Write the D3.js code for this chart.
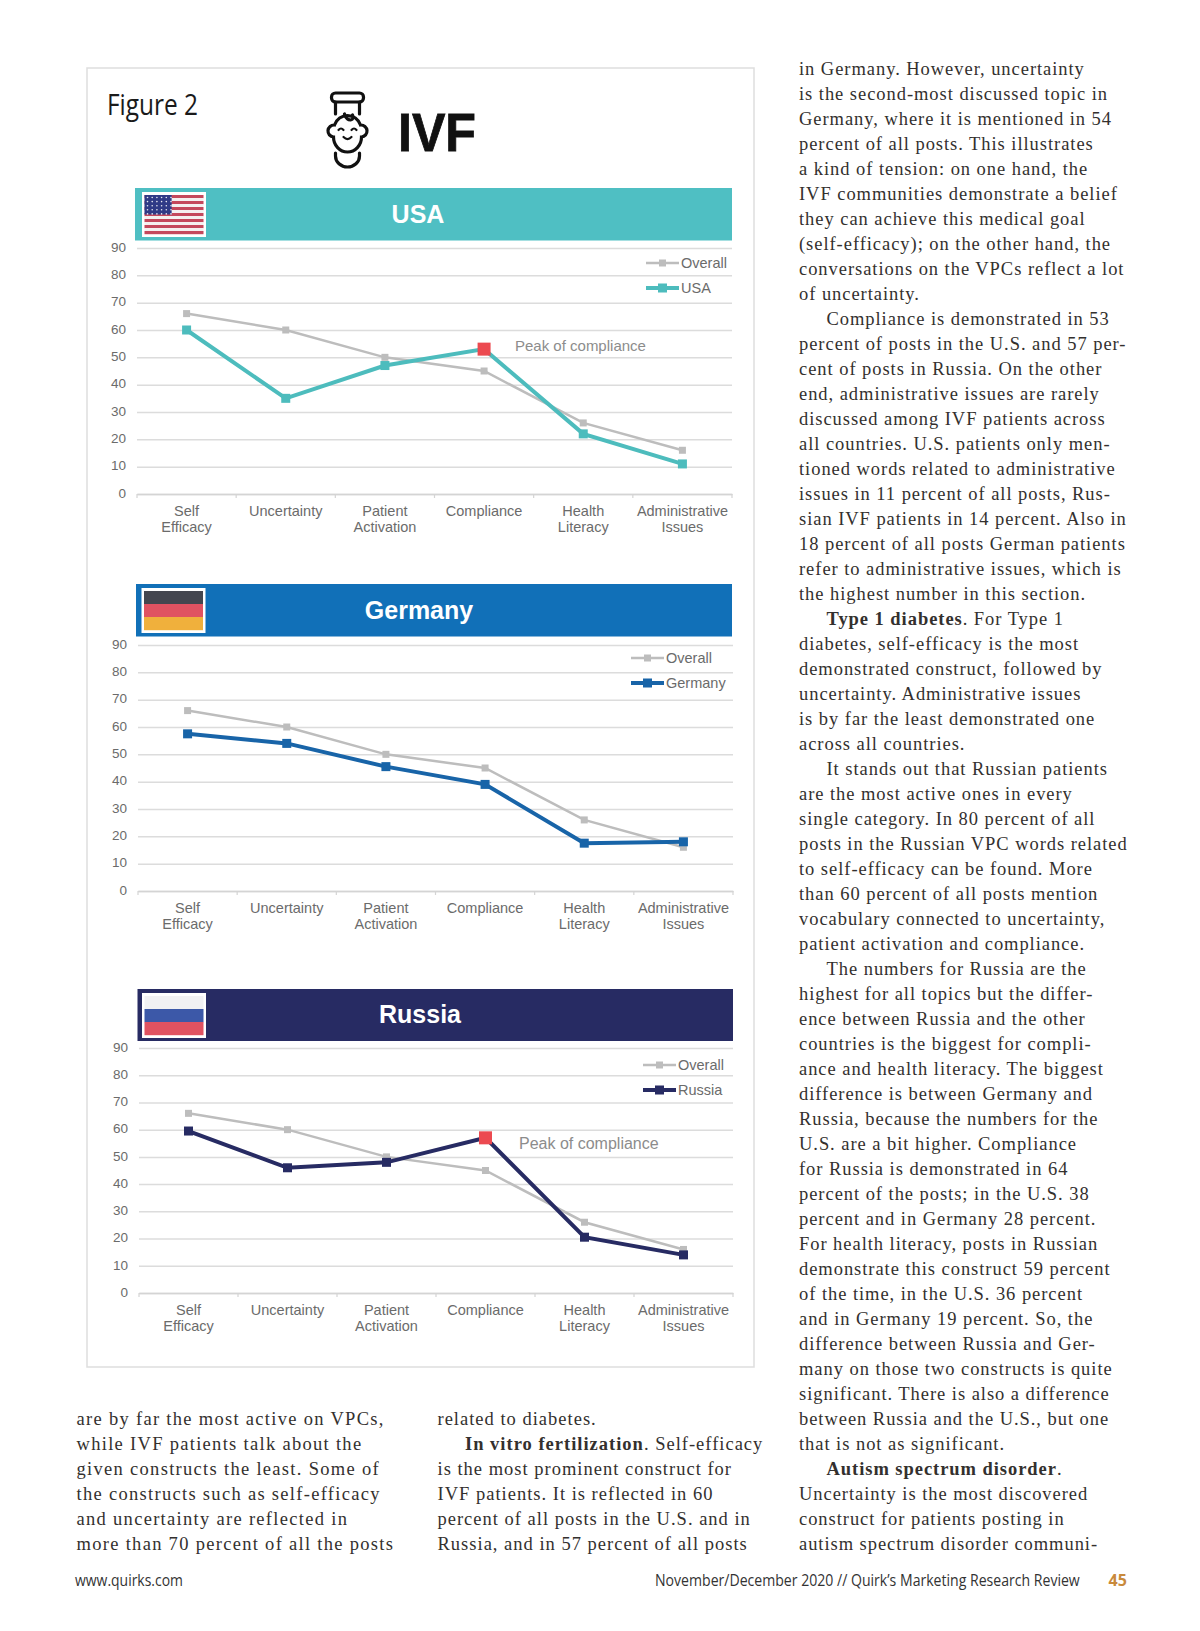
<!DOCTYPE html>
<html>
<head>
<meta charset="utf-8">
<script src="https://cdn.jsdelivr.net/npm/d3@7"></script>
<style>
  html, body { margin: 0; padding: 0; background: #fff; }
  svg { display: block; }
</style>
</head>
<body>
<div id="page"></div>
<script>
// chart values
const categories = ["Self Efficacy", "Uncertainty", "Patient Activation", "Compliance", "Health Literacy", "Administrative Issues"];
const yTicks = [0, 10, 20, 30, 40, 50, 60, 70, 80, 90];
const overall = [66, 60, 50, 45, 26, 16];
const usa = [60, 35, 47, 53, 22, 11];
const germany = [57.5, 54, 45.5, 39, 17.5, 18];
const russia = [59.5, 46, 48, 57, 20.5, 14];

// page text
const column1 = [
  "are by far the most active on VPCs,",
  "while IVF patients talk about the",
  "given constructs the least. Some of",
  "the constructs such as self-efficacy",
  "and uncertainty are reflected in",
  "more than 70 percent of all the posts"
];
const column2 = [
  "related to diabetes.",
  ">*In vitro fertilization*. Self-efficacy",
  "is the most prominent construct for",
  "IVF patients. It is reflected in 60",
  "percent of all posts in the U.S. and in",
  "Russia, and in 57 percent of all posts"
];
const column3 = [
  "in Germany. However, uncertainty",
  "is the second-most discussed topic in",
  "Germany, where it is mentioned in 54",
  "percent of all posts. This illustrates",
  "a kind of tension: on one hand, the",
  "IVF communities demonstrate a belief",
  "they can achieve this medical goal",
  "(self-efficacy); on the other hand, the",
  "conversations on the VPCs reflect a lot",
  "of uncertainty.",
  ">Compliance is demonstrated in 53",
  "percent of posts in the U.S. and 57 per-",
  "cent of posts in Russia. On the other",
  "end, administrative issues are rarely",
  "discussed among IVF patients across",
  "all countries. U.S. patients only men-",
  "tioned words related to administrative",
  "issues in 11 percent of all posts, Rus-",
  "sian IVF patients in 14 percent. Also in",
  "18 percent of all posts German patients",
  "refer to administrative issues, which is",
  "the highest number in this section.",
  ">*Type 1 diabetes*. For Type 1",
  "diabetes, self-efficacy is the most",
  "demonstrated construct, followed by",
  "uncertainty. Administrative issues",
  "is by far the least demonstrated one",
  "across all countries.",
  ">It stands out that Russian patients",
  "are the most active ones in every",
  "single category. In 80 percent of all",
  "posts in the Russian VPC words related",
  "to self-efficacy can be found. More",
  "than 60 percent of all posts mention",
  "vocabulary connected to uncertainty,",
  "patient activation and compliance.",
  ">The numbers for Russia are the",
  "highest for all topics but the differ-",
  "ence between Russia and the other",
  "countries is the biggest for compli-",
  "ance and health literacy. The biggest",
  "difference is between Germany and",
  "Russia, because the numbers for the",
  "U.S. are a bit higher. Compliance",
  "for Russia is demonstrated in 64",
  "percent of the posts; in the U.S. 38",
  "percent and in Germany 28 percent.",
  "For health literacy, posts in Russian",
  "demonstrate this construct 59 percent",
  "of the time, in the U.S. 36 percent",
  "and in Germany 19 percent. So, the",
  "difference between Russia and Ger-",
  "many on those two constructs is quite",
  "significant. There is also a difference",
  "between Russia and the U.S., but one",
  "that is not as significant.",
  ">*Autism spectrum disorder*.",
  "Uncertainty is the most discovered",
  "construct for patients posting in",
  "autism spectrum disorder communi-"
];

const sans = "'Liberation Sans', Arial, sans-serif";
const serif = "'Liberation Serif', serif";
const overallColor = "#bdbdbd";
const textColor = "#6b6b6b";

const svg = d3.select("#page")
  .append("svg")
  .attr("width", 1200)
  .attr("height", 1631);

svg.append("rect").attr("width", 1200).attr("height", 1631).attr("fill", "#fff");

// figure card
svg.append("rect")
  .attr("x", 87).attr("y", 68)
  .attr("width", 667).attr("height", 1299)
  .attr("fill", "#fff")
  .attr("stroke", "#dedede")
  .attr("stroke-width", 1.5);

svg.append("text")
  .attr("x", 107).attr("y", 115)
  .attr("textLength", 91).attr("lengthAdjust", "spacingAndGlyphs")
  .style("font-family", "'Open Sans', sans-serif")
  .style("font-size", "30px")
  .attr("fill", "#1a1a1a")
  .text("Figure 2");

svg.append("text")
  .attr("x", 398).attr("y", 151)
  .attr("textLength", 78).attr("lengthAdjust", "spacingAndGlyphs")
  .style("font-family", sans)
  .style("font-weight", "bold")
  .style("font-size", "53px")
  .attr("stroke", "#111")
  .attr("stroke-width", 0.8)
  .attr("fill", "#111")
  .text("IVF");

// baby in a tube icon
const icon = svg.append("g")
  .attr("transform", "translate(347.500,92)")
  .attr("fill", "none")
  .attr("stroke", "#111")
  .attr("stroke-width", 3.2)
  .attr("stroke-linecap", "round");
icon.append("rect").attr("x", -16).attr("y", 1).attr("width", 32).attr("height", 9).attr("rx", 4);
icon.append("path").attr("d", "M-12 10V22M12 10V22");
icon.append("path").attr("d", "M-13 33a14 15 0 0 1 26 0a6 6 0 0 1 1 12a14 15 0 0 1 -28 0a6 6 0 0 1 1 -12z");
icon.append("path").attr("d", "M-3 22q2 6 6 6q4 -1 2 -5");
icon.append("path").attr("d", "M-9 38q2.500 -3 5 0M4 38q2.500 -3 5 0M-4 45q4 4 8 0").attr("stroke-width", 2.2);
icon.append("path").attr("d", "M-12 61v3a12 11 0 0 0 24 0v-3");

// flags
function drawUsFlag(g, w, h) {
  d3.range(13).forEach(i => {
    g.append("rect")
      .attr("y", i * h / 13).attr("width", w).attr("height", h / 13 + 0.2)
      .attr("fill", i % 2 ? "#f4f0f0" : "#c4485c");
  });
  g.append("rect").attr("width", w * 0.46).attr("height", h * 0.5).attr("fill", "#2f3a86");
  d3.range(5).forEach(r => d3.range(6).forEach(c => {
    g.append("circle")
      .attr("cx", 3 + c * 4.7).attr("cy", 2.500 + r * 4.1).attr("r", 0.8)
      .attr("fill", "#e8e8f2");
  }));
}

function drawStripes(colors) {
  return (g, w, h) => colors.forEach((color, i) => {
    g.append("rect")
      .attr("y", i * h / 3).attr("width", w).attr("height", h / 3 + 0.2)
      .attr("fill", color);
  });
}

// one country panel: banner, axes, grid, two lines, legend
function drawPanel(p) {
  const x = d3.scaleBand().domain(categories).range([p.left, p.right]).padding(0);
  const y = d3.scaleLinear().domain([0, 90]).range([p.y0, p.y90]);
  const cx = i => x(categories[i]) + x.bandwidth() / 2;

  const g = svg.append("g");

  // banner
  g.append("rect")
    .attr("x", p.bandLeft).attr("y", p.bandTop)
    .attr("width", p.bandRight - p.bandLeft).attr("height", p.bandBottom - p.bandTop)
    .attr("fill", p.color);
  g.append("text")
    .attr("x", p.titleX).attr("y", p.titleY)
    .attr("text-anchor", "middle")
    .style("font-family", sans)
    .style("font-weight", "bold")
    .style("font-size", "25px")
    .attr("fill", "#fff")
    .text(p.name);

  // flag with white border
  g.append("rect")
    .attr("x", p.flagX).attr("y", p.flagY)
    .attr("width", 64).attr("height", 45)
    .attr("fill", "#fff");
  const flag = g.append("g").attr("transform", `translate(${p.flagX + 2.500},${p.flagY + 3})`);
  p.flag(flag, 59, 39);

  // y axis and grid
  const yAxis = g.append("g")
    .attr("transform", `translate(${p.left},0)`)
    .call(d3.axisLeft(y).tickValues(yTicks).tickSize(-(p.right - p.left)).tickPadding(11));
  yAxis.select(".domain").remove();
  yAxis.selectAll("line").attr("stroke", "#dcdcdc").attr("stroke-width", 1.5);
  yAxis.selectAll("text")
    .attr("y", -1)
    .style("font-family", sans)
    .style("font-size", "13.500px")
    .attr("fill", textColor);

  // x axis with two line labels
  const xAxis = g.append("g")
    .attr("transform", `translate(0,${p.y0})`)
    .call(d3.axisBottom(x).tickSize(0).tickPadding(0));
  xAxis.select(".domain").attr("stroke", "#d4d4d4").attr("stroke-width", 1.5);
  xAxis.selectAll("text").each(function (d) {
    const words = d.split(" ");
    const label = d3.select(this).text(null)
      .attr("dy", null)
      .style("font-family", sans)
      .style("font-size", "14.500px")
      .attr("fill", textColor);
    words.forEach((w, i) => {
      label.append("tspan").attr("x", 0).attr("y", 21.500 + i * 16.500).text(w);
    });
  });
  // tick marks sit between the categories
  g.append("g").selectAll("line")
    .data(categories.concat("end"))
    .join("line")
    .attr("x1", (d, i) => p.left + i * x.step())
    .attr("x2", (d, i) => p.left + i * x.step())
    .attr("y1", p.y0).attr("y2", p.y0 + 4)
    .attr("stroke", "#d4d4d4")
    .attr("stroke-width", 1.200);

  const line = d3.line().x((d, i) => cx(i)).y(d => y(d));

  // overall series
  g.append("path")
    .attr("d", line(overall))
    .attr("fill", "none")
    .attr("stroke", overallColor)
    .attr("stroke-width", 2.500);
  g.selectAll(".overallMark")
    .data(overall)
    .join("rect")
    .attr("x", (d, i) => cx(i) - 3.500)
    .attr("y", d => y(d) - 3.500)
    .attr("width", 7).attr("height", 7)
    .attr("fill", overallColor);

  // country series
  g.append("path")
    .attr("d", line(p.values))
    .attr("fill", "none")
    .attr("stroke", p.lineColor)
    .attr("stroke-width", 4);
  g.selectAll(".countryMark")
    .data(p.values)
    .join("rect")
    .attr("x", (d, i) => cx(i) - 4.500)
    .attr("y", d => y(d) - 4.500)
    .attr("width", 9).attr("height", 9)
    .attr("fill", p.lineColor);

  // peak marker
  if (p.peakLabel) {
    const peak = categories.indexOf("Compliance");
    g.append("rect")
      .attr("x", cx(peak) - 6.500)
      .attr("y", y(p.values[peak]) - 6.500)
      .attr("width", 13).attr("height", 13)
      .attr("fill", "#ec4a50");
    g.append("text")
      .attr("x", p.peakLabel[0]).attr("y", p.peakLabel[1])
      .style("font-family", sans)
      .style("font-size", p.peakSize)
      .attr("fill", "#8c8c8c")
      .text("Peak of compliance");
  }

  // legend
  [["Overall", overallColor, 2.500, 7], [p.name, p.lineColor, 4, 9]].forEach((item, i) => {
    const ly = p.legendY + i * 25;
    g.append("line")
      .attr("x1", p.legendX).attr("x2", p.legendX + 33)
      .attr("y1", ly).attr("y2", ly)
      .attr("stroke", item[1]).attr("stroke-width", item[2]);
    g.append("rect")
      .attr("x", p.legendX + 16.500 - item[3] / 2).attr("y", ly - item[3] / 2)
      .attr("width", item[3]).attr("height", item[3])
      .attr("fill", item[1]);
    g.append("text")
      .attr("x", p.legendX + 35).attr("y", ly + 5)
      .style("font-family", sans)
      .style("font-size", "14.500px")
      .attr("fill", textColor)
      .text(item[0]);
  });
}

drawPanel({
  name: "USA", values: usa, color: "#4fbfc3", lineColor: "#4dbcbd", flag: drawUsFlag,
  left: 137, right: 732, y0: 494, y90: 248,
  bandLeft: 135, bandRight: 732, bandTop: 188, bandBottom: 240.500,
  titleX: 418, titleY: 223, flagX: 142, flagY: 192,
  legendX: 646, legendY: 263, peakLabel: [515, 351], peakSize: "15px"
});

drawPanel({
  name: "Germany", values: germany, color: "#1170b8", lineColor: "#1864a8",
  flag: drawStripes(["#44464f", "#e05261", "#f0b03c"]),
  left: 138, right: 733, y0: 891, y90: 645,
  bandLeft: 136, bandRight: 732, bandTop: 584, bandBottom: 636.500,
  titleX: 419, titleY: 619, flagX: 141.500, flagY: 588,
  legendX: 631, legendY: 658, peakLabel: null
});

drawPanel({
  name: "Russia", values: russia, color: "#272b63", lineColor: "#272b63",
  flag: drawStripes(["#f1f1f3", "#3c58a8", "#e05261"]),
  left: 139, right: 733, y0: 1293, y90: 1048,
  bandLeft: 137.500, bandRight: 733, bandTop: 989, bandBottom: 1041,
  titleX: 420, titleY: 1023, flagX: 142, flagY: 993,
  legendX: 643, legendY: 1065, peakLabel: [519, 1149], peakSize: "16px"
});

// text columns, ">" starts an indented line and *...* is bold
function drawColumn(lines, x, firstBaseline, spacing) {
  const col = svg.append("g")
    .style("font-family", serif)
    .style("font-size", "18.500px")
    .style("letter-spacing", spacing)
    .attr("fill", "#33302e");
  lines.forEach((raw, i) => {
    const indent = raw.startsWith(">");
    const parts = (indent ? raw.slice(1) : raw).split("*");
    const t = col.append("text")
      .attr("x", x + (indent ? 27.500 : 0))
      .attr("y", firstBaseline + i * 25);
    parts.forEach((part, k) => {
      t.append("tspan")
        .style("font-weight", k % 2 ? "bold" : "normal")
        .text(part);
    });
  });
}

drawColumn(column1, 76.500, 1425, "1.300px");
drawColumn(column2, 437.500, 1425, "1.000px");
drawColumn(column3, 799, 75, "0.950px");

// footer, squeezed sideways to the width it has in print
const footer = svg.append("g")
  .style("font-family", "'Open Sans', sans-serif")
  .style("font-size", "16px")
  .attr("fill", "#333");

function footerText(str, x, width) {
  const t = footer.append("text").text(str);
  const k = width / t.node().getComputedTextLength();
  t.attr("transform", `translate(${x},1586) scale(${k},1)`);
}

footerText("www.quirks.com", 75, 108);
footerText("November/December 2020 // Quirk\u2019s Marketing Research Review", 655, 425);
footer.append("text")
  .attr("x", 1108.500).attr("y", 1586)
  .style("font-weight", "bold")
  .attr("fill", "#c98a3c")
  .text("45");
</script>
</body>
</html>
